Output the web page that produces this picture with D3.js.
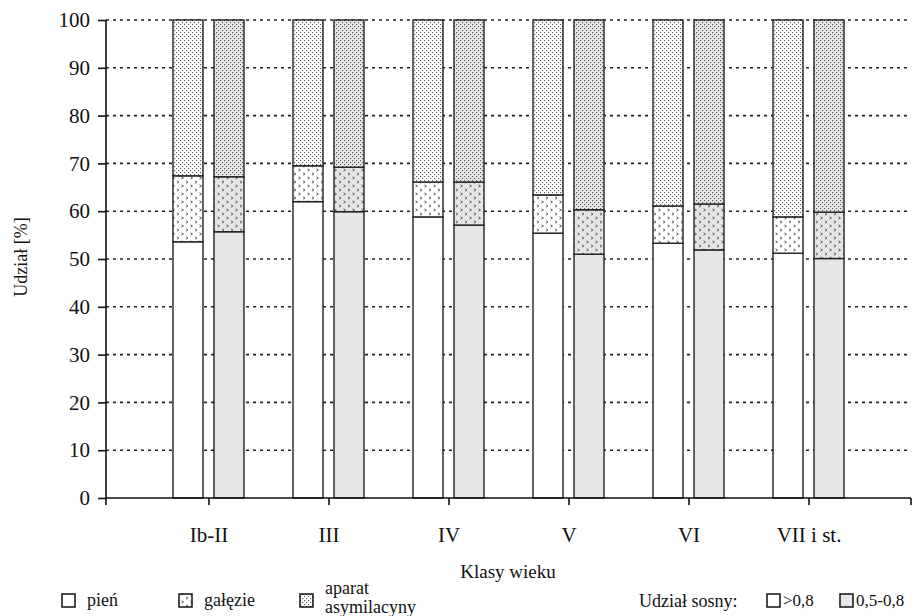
<!DOCTYPE html>
<html><head><meta charset="utf-8">
<script src="https://cdn.jsdelivr.net/npm/d3@7"></script>
<style>body{margin:0;background:#fff}svg{display:block}</style>
</head><body><svg id="c" width="920" height="616"></svg>
<script>
const categories = ["Ib-II","III","IV","V","VI","VII i st."];
const groups = [">0,8","0,5-0,8"];
const segments = ["pień","gałęzie","aparat asymilacyny"];
// values per category: [pień, gałęzie, aparat] for >0,8 and 0,5-0,8
const pienHigh   = [53.6, 62.0, 58.8, 55.4, 53.3, 51.2];
const galeHigh   = [13.8, 7.5, 7.3, 8.0, 7.8, 7.6];
const aparHigh   = [32.6, 30.5, 33.9, 36.6, 38.9, 41.2];
const pienLow    = [55.7, 59.9, 57.1, 51.0, 51.9, 50.1];
const galeLow    = [11.5, 9.3, 9.0, 9.3, 9.6, 9.7];
const aparLow    = [32.8, 30.8, 33.9, 39.7, 38.5, 40.2];
const yTicks = [0,10,20,30,40,50,60,70,80,90,100];

const FONT = "Liberation Serif, DejaVu Serif, serif";
const svg = d3.select("#c");
const defs = svg.append("defs");
function galPattern(id, bg){
  const p = defs.append("pattern").attr("id",id).attr("patternUnits","userSpaceOnUse").attr("width",9).attr("height",8);
  p.append("rect").attr("width",9).attr("height",8).attr("fill",bg);
  p.append("path").attr("d","M1.5,0.8 L3.5,2 L1.5,3.2 M6,4.8 L8,6 L6,7.2").attr("fill","none").attr("stroke","#555").attr("stroke-width",0.9);
}
function apPattern(id, bg){
  const p = defs.append("pattern").attr("id",id).attr("patternUnits","userSpaceOnUse").attr("width",4).attr("height",4);
  p.append("rect").attr("width",4).attr("height",4).attr("fill",bg);
  p.append("rect").attr("x",0).attr("y",0).attr("width",1.1).attr("height",1.1).attr("fill","#555");
  p.append("rect").attr("x",2).attr("y",2).attr("width",1.1).attr("height",1.1).attr("fill","#555");
}
galPattern("galW","#fff"); galPattern("galG","#e6e6e6");
apPattern("apW","#fff"); apPattern("apG","#e6e6e6");

const x0 = 106, x1 = 911;
const x = d3.scalePoint().domain(categories).range([x0,x1]).padding(0.854);
const y = d3.scaleLinear().domain([0,100]).range([498,20]);
const off = d3.scaleOrdinal().domain(groups).range([-20.5,20.5]);
const bw = 30;

// gridlines
svg.append("g").selectAll("line").data(yTicks.filter(d=>d>0)).join("line")
  .attr("x1",x0).attr("x2",908).attr("y1",d=>y(d)).attr("y2",d=>y(d))
  .attr("stroke","#222").attr("stroke-width",1.6).attr("stroke-dasharray","3,4");

const rows = [];
categories.forEach((c,i)=>{
  [[">0,8",[pienHigh[i],galeHigh[i],aparHigh[i]]],["0,5-0,8",[pienLow[i],galeLow[i],aparLow[i]]]].forEach(([g,vals])=>{
    let acc=0;
    vals.forEach((v,k)=>{rows.push({c,g,k,y0:acc,y1:acc+v}); acc+=v;});
  });
});
const fills = {">0,8":["#fff","url(#galW)","url(#apW)"],"0,5-0,8":["#e6e6e6","url(#galG)","url(#apG)"]};
svg.append("g").selectAll("rect").data(rows).join("rect")
  .attr("x",d=>x(d.c)+off(d.g)-bw/2).attr("width",bw)
  .attr("y",d=>y(Math.min(d.y1,100))).attr("height",d=>y(d.y0)-y(Math.min(d.y1,100)))
  .attr("fill",d=>fills[d.g][d.k]).attr("stroke","#222").attr("stroke-width",1.4);

// y axis
const ya = svg.append("g").attr("transform",`translate(${x0},0)`)
  .call(d3.axisLeft(y).tickValues(yTicks).tickSize(8).tickPadding(8));
ya.select(".domain").attr("stroke","#111").attr("stroke-width",1.6).attr("d",`M0,${y(100)}V${y(0)}`);
ya.selectAll(".tick line").attr("stroke","#111").attr("stroke-width",1.6);
ya.selectAll(".tick text").attr("font-size",21).attr("fill","#111");

// x axis
const xa = svg.append("g").attr("transform",`translate(0,${y(0)})`)
  .call(d3.axisBottom(x).tickSize(7).tickPadding(22));
xa.select(".domain").attr("stroke","#111").attr("stroke-width",1.6).attr("d",`M${x0},0H${x1}`);
xa.selectAll(".tick line").attr("stroke","#111").attr("stroke-width",1.6);
xa.selectAll(".tick text").attr("font-size",21).attr("fill","#111");
[x0,x1].forEach(v=>xa.append("line").attr("x1",v).attr("x2",v).attr("y1",0).attr("y2",7).attr("stroke","#111").attr("stroke-width",1.6));

svg.append("text").attr("x",508).attr("y",578).attr("text-anchor","middle").attr("font-size",19).text("Klasy wieku");
svg.append("text").attr("transform","translate(27,257) rotate(-90)").attr("text-anchor","middle").attr("font-size",18).text("Udział [%]");

// legend
const lg = svg.append("g");
const legItems = [
  {x:62, fill:"#fff", lines:["pień"]},
  {x:179, fill:"url(#galW)", lines:["gałęzie"]},
  {x:300, fill:"url(#apW)", lines:["aparat","asymilacyny"]}
];
legItems.forEach(d=>{
  lg.append("rect").attr("x",d.x).attr("y",594).attr("width",13).attr("height",13).attr("fill",d.fill).attr("stroke","#111").attr("stroke-width",1.5);
  if(d.lines.length===1){
    lg.append("text").attr("x",d.x+25).attr("y",606).attr("font-size",18).text(d.lines[0]);
  } else {
    lg.append("text").attr("x",d.x+25).attr("y",594).attr("font-size",18).text(d.lines[0]);
    lg.append("text").attr("x",d.x+25).attr("y",613).attr("font-size",18).text(d.lines[1]);
  }
});
lg.append("text").attr("x",639).attr("y",607).attr("font-size",18).text("Udział sosny:");
[{x:767,fill:"#fff",t:groups[0]},{x:840,fill:"#e6e6e6",t:groups[1]}].forEach(d=>{
  lg.append("rect").attr("x",d.x).attr("y",594).attr("width",13).attr("height",13).attr("fill",d.fill).attr("stroke","#111").attr("stroke-width",1.5);
  lg.append("text").attr("x",d.x+16).attr("y",606).attr("font-size",17).text(d.t);
});
svg.selectAll("text").style("font-family", FONT).style("fill","#111");
</script></body></html>
